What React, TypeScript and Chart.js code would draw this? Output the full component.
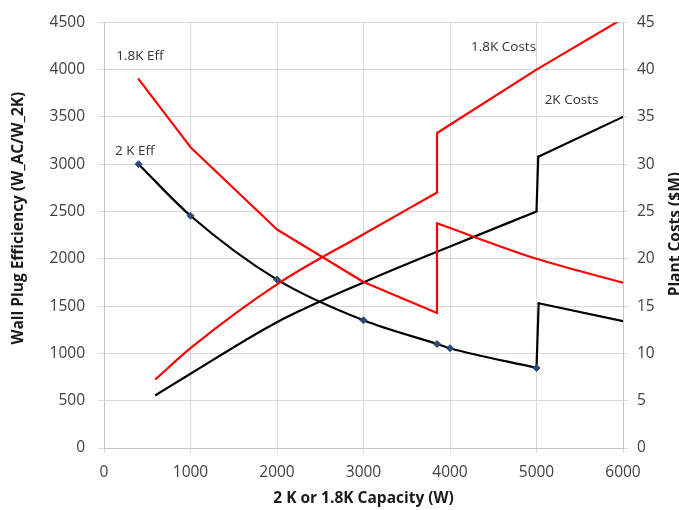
import { useEffect, useRef } from "react";
import { Chart, registerables } from "chart.js";

Chart.register(...registerables);

// Wall plug efficiency, 2 K plant (W_AC per W at 2 K); every design point is marked
const eff2KCapacity = [400, 1000, 2000, 3000, 3850, 4000, 5000, 5025, 6000];
const eff2KValues = [3000, 2455, 1780, 1350, 1100, 1055, 846, 1530, 1340];
const eff2KMarked = [400, 1000, 2000, 3000, 3850, 4000, 5000];
const eff2KJump = 6; // index where the plant configuration changes

// Wall plug efficiency, 1.8 K plant
const eff18KCapacity = [400, 1000, 2000, 3000, 3850, 3850, 5000, 6000];
const eff18KValues = [3900, 3180, 2310, 1755, 1427, 2375, 2000, 1748];
const eff18KJump = 4;

// Plant costs in $M, 2 K plant
const cost2KCapacity = [600, 1000, 2000, 3000, 4000, 5000, 5020, 6000];
const cost2KValues = [5.6, 7.85, 13.3, 17.5, 21.3, 25.0, 30.8, 35.0];
const cost2KJump = 5;

// Plant costs in $M, 1.8 K plant
const cost18KCapacity = [600, 1000, 2000, 3000, 3850, 3850, 5000, 6000];
const cost18KValues = [7.3, 10.55, 17.3, 22.6, 27.0, 33.3, 40.0, 45.4];
const cost18KJump = 4;

const capacityTickStep = 1000;
const effTickStep = 500;
const costTickStep = 5;

const toPoints = (xs: number[], ys: number[]) => xs.map((x, i) => ({ x, y: ys[i] }));

// Split a series into the run before the step, the step itself and the run after it.
function splitAtJump(xs: number[], ys: number[], j: number) {
  return {
    before: toPoints(xs.slice(0, j + 1), ys.slice(0, j + 1)),
    step: toPoints(xs.slice(j, j + 2), ys.slice(j, j + 2)),
    after: toPoints(xs.slice(j + 1), ys.slice(j + 1)),
  };
}

const FONT = "'Open Sans', 'DejaVu Sans', sans-serif";
const RED = "#ff0000";
const BLACK = "#000000";
const GRID = "#d9d9d9";
const TICK_COLOR = "#404040";
const TITLE_COLOR = "#1a1a1a";

const curveLabels = [
  { text: "1.8K Eff", x: 416, y: 4145, axis: "y" },
  { text: "2 K Eff", x: 356, y: 3142, axis: "y" },
  { text: "1.8K Costs", x: 4619, y: 42.35, axis: "y1" },
  { text: "2K Costs", x: 5405, y: 36.8, axis: "y1" },
];

const textPlugin = {
  id: "curveText",
  afterDatasetsDraw(chart: any) {
    const { ctx, scales, chartArea } = chart;
    ctx.save();
    ctx.fillStyle = "#333333";
    ctx.font = `13.5px ${FONT}`;
    ctx.textAlign = "center";
    ctx.textBaseline = "middle";
    for (const l of curveLabels) {
      const px = scales.x.getPixelForValue(l.x);
      const py = scales[l.axis].getPixelForValue(l.y);
      ctx.fillText(l.text, px, py);
    }
    // vertical axis titles, both reading bottom to top
    ctx.font = `bold 15.5px ${FONT}`;
    ctx.fillStyle = TITLE_COLOR;
    const midY = (chartArea.top + chartArea.bottom) / 2;
    ctx.save();
    ctx.translate(18.5, midY - 17);
    ctx.rotate(-Math.PI / 2);
    ctx.fillText("Wall Plug Efficiency (W_AC/W_2K)", 0, 0);
    ctx.restore();
    ctx.save();
    ctx.translate(chart.width - 3.5, midY - 1);
    ctx.rotate(-Math.PI / 2);
    ctx.fillText("Plant Costs ($M)", 0, 0);
    ctx.restore();
    ctx.restore();
  },
};

export default function App() {
  const ref = useRef<HTMLCanvasElement>(null);

  useEffect(() => {
    if (!ref.current) return;
    const lineBase = {
      borderWidth: 2.2,
      borderJoinStyle: "round" as const,
      borderCapStyle: "round" as const,
      tension: 0,
      pointRadius: 0,
      fill: false,
    };

    const eff2K = splitAtJump(eff2KCapacity, eff2KValues, eff2KJump);
    const eff18K = splitAtJump(eff18KCapacity, eff18KValues, eff18KJump);
    const cost2K = splitAtJump(cost2KCapacity, cost2KValues, cost2KJump);
    const cost18K = splitAtJump(cost18KCapacity, cost18KValues, cost18KJump);

    const curveStyle = (smooth: boolean) =>
      smooth
        ? { tension: 0.4, cubicInterpolationMode: "monotone" as const }
        : { tension: 0, cubicInterpolationMode: "default" as const };

    // run up to the step (smooth or straight), straight step, then the run after it
    const seriesSets = (
      name: string,
      s: ReturnType<typeof splitAtJump>,
      color: string,
      axis: string,
      smoothBefore: boolean,
      smoothAfter: boolean
    ) => [
      { ...lineBase, label: name, data: s.before, borderColor: color, yAxisID: axis, ...curveStyle(smoothBefore) },
      { ...lineBase, label: name, data: s.step, borderColor: color, yAxisID: axis },
      { ...lineBase, label: name, data: s.after, borderColor: color, yAxisID: axis, ...curveStyle(smoothAfter) },
    ];

    const markerRadius = (c: any) => (c.raw && eff2KMarked.includes(c.raw.x) ? 3.5 : 0);

    const datasets: any[] = [
      ...seriesSets("1.8K Eff", eff18K, RED, "y", false, true),
      ...seriesSets("1.8K Costs", cost18K, RED, "y1", true, false),
      ...seriesSets("2K Costs", cost2K, BLACK, "y1", true, false),
      ...seriesSets("2 K Eff", eff2K, BLACK, "y", true, false),
    ];
    // markers on the 2 K efficiency design points
    datasets[datasets.length - 3] = {
      ...datasets[datasets.length - 3],
      pointStyle: "rectRot",
      pointRadius: markerRadius,
      pointBackgroundColor: "#2b4a78",
      pointBorderColor: "#2b4a78",
      pointBorderWidth: 1,
    };

    const tickFont = { family: FONT, size: 15.5 };
    const plain = (v: any) => String(v);

    const chart = new Chart(ref.current, {
      type: "line",
      data: { datasets },
      options: {
        responsive: false,
        animation: false,
        events: [],
        layout: { padding: { top: 18, left: 0, right: 0, bottom: 0 } },
        plugins: {
          legend: { display: false },
          tooltip: { enabled: false },
        },
        scales: {
          x: {
            type: "linear",
            min: 0,
            max: 6000,
            ticks: { stepSize: capacityTickStep, color: TICK_COLOR, padding: 10, font: tickFont, callback: plain },
            grid: { color: GRID, tickLength: 5 },
            border: { color: "#c4c4c4" },
            title: {
              display: true,
              text: "2 K or 1.8K Capacity (W)",
              color: TITLE_COLOR,
              font: { family: FONT, size: 15.5, weight: "bold" },
              padding: { top: 0, bottom: 2 },
            },
            afterFit: (s: any) => {
              s.height = 62;
            },
          },
          y: {
            type: "linear",
            position: "left",
            min: 0,
            max: 4500,
            ticks: { stepSize: effTickStep, color: TICK_COLOR, padding: 13, font: tickFont, callback: plain },
            grid: { color: GRID, tickLength: 6 },
            border: { color: "#c4c4c4" },
            afterFit: (s: any) => {
              s.width = 104;
            },
          },
          y1: {
            type: "linear",
            position: "right",
            min: 0,
            max: 45,
            ticks: { stepSize: costTickStep, color: TICK_COLOR, padding: 9, font: tickFont, callback: plain },
            grid: { color: GRID, tickLength: 5, drawOnChartArea: false },
            border: { color: "#c4c4c4" },
            afterFit: (s: any) => {
              s.width = 56;
            },
          },
        },
      },
      plugins: [textPlugin],
    });
    return () => chart.destroy();
  }, []);

  return (
    <div
      style={{
        position: "absolute",
        left: 0,
        top: 0,
        width: 679,
        height: 510,
        overflow: "hidden",
        background: "#ffffff",
      }}
    >
      <canvas ref={ref} width={679} height={510} style={{ display: "block" }} />
    </div>
  );
}
